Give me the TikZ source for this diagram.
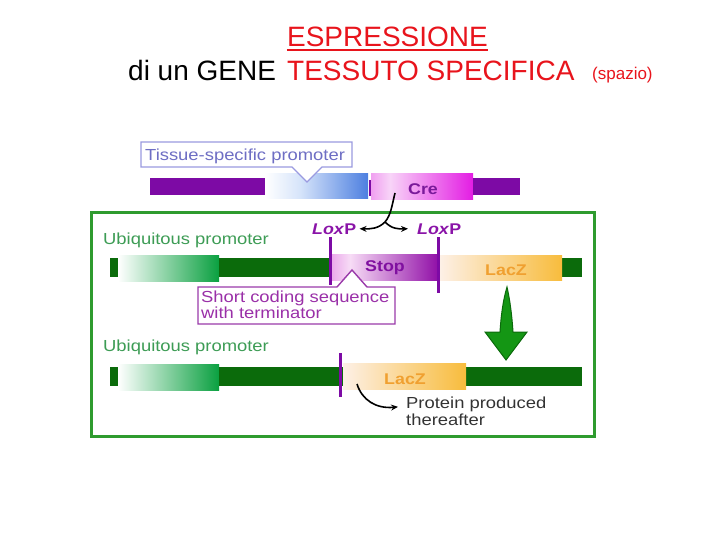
\documentclass[tikz,border=0pt]{standalone}
\usepackage{fontspec}
\setmainfont{Liberation Sans}
\newfontfamily\lab[FakeStretch=1.15]{Liberation Sans}
\usetikzlibrary{arrows.meta,calc}
\definecolor{titred}{HTML}{E8141C}
\definecolor{purp}{HTML}{7D0AA5}
\definecolor{creL}{HTML}{F0A0F0}
\definecolor{creM}{HTML}{F8D4F8}
\definecolor{creR}{HTML}{E31DE3}
\definecolor{blueR}{HTML}{4D7FE0}
\definecolor{blueM}{HTML}{D6E4FA}
\definecolor{stopL}{HTML}{EAA8EA}
\definecolor{stopM}{HTML}{F7DCF6}
\definecolor{stopR}{HTML}{9212A8}
\definecolor{lacL}{HTML}{FDF0E6}
\definecolor{lacR}{HTML}{F8BC3C}
\definecolor{dkgreen}{HTML}{0B6B0B}
\definecolor{grgrad}{HTML}{0AA040}
\definecolor{framegreen}{HTML}{2F9B2F}
\definecolor{ubcol}{HTML}{3D9C55}
\definecolor{tspcol}{HTML}{6E6EC4}
\definecolor{tspborder}{HTML}{9A9AE0}
\definecolor{scborder}{HTML}{9A3AAA}
\definecolor{sctext}{HTML}{9A30A8}
\definecolor{loxcol}{HTML}{8A14A8}
\definecolor{lactext}{HTML}{F0A030}
\definecolor{stoptext}{HTML}{8010A0}
\definecolor{cretext}{HTML}{7A1A9A}
\definecolor{protcol}{HTML}{333333}
\definecolor{arrgreen}{HTML}{149614}
\definecolor{arrborder}{HTML}{0B6A0B}
\tikzset{
  lab/.style={font=\lab\fontsize{16}{18}\selectfont, inner sep=0pt},
  blab/.style={font=\lab\bfseries\fontsize{15.5}{17}\selectfont, inner sep=0pt},
  titlefont/.style={inner sep=0pt, font=\fontsize{28}{30}\selectfont},
  loxline/.style={draw=purp, line width=3pt},
  bubble/.style={line width=1.4pt, fill=white},
  curvearrow/.style={line width=1.6pt, -{Stealth[length=7pt,width=6pt]}},
}
\begin{document}
\begin{tikzpicture}[x=1pt,y=-1pt]
\useasboundingbox (0,0) rectangle (720,540);
% title
\node[titlefont, text=titred, anchor=base] (title) at (387.5,47) {ESPRESSIONE};
\draw[titred, line width=1.6pt] ($(title.base west)+(0,3)$) -- ($(title.base east)+(0,3)$);
\node[titlefont, anchor=base west] (t2a) at (128,81) {di un GENE};
\node[titlefont, text=titred, anchor=base west] (t2b) at (287,81) {TESSUTO SPECIFICA};
\node[inner sep=0pt, font=\fontsize{17}{19}\selectfont, text=titred, anchor=base west] (t2c) at (592,80) {(spazio)};

% tissue-specific row
\fill[purp] (150,178) rectangle (265,195);
\shade[left color=white, right color=blueM] (265,174) rectangle (300,199);
\shade[left color=blueM, right color=blueR] (300,174) rectangle (368,199);
\draw[purp, line width=2.5pt] (370,180) -- (370,196);
\shade[left color=creL, right color=creM] (371,174) rectangle (390,200);
\shade[left color=creM, right color=creR] (390,174) rectangle (473,200);
\fill[purp] (473,178) rectangle (520,195);
\node[blab, text=cretext] (cre) at (423,189) {Cre};
% bubble
\draw[bubble, draw=tspborder] (141,167) -- (292,167) -- (307,182) coordinate (tsptip) -- (322,167) -- (352,167) -- (352,142) -- (141,142) -- cycle;
\node[lab, text=tspcol, anchor=base west] (tsp) at (145,161) {Tissue-specific promoter};

% green frame
\draw[framegreen, line width=3pt] (91,213) rectangle (594,436);

% Cre arrows and LoxP
\node[blab, text=loxcol, anchor=base west] (loxl) at (312,234) {\textit{Lox}P};
\node[blab, text=loxcol, anchor=base west] (loxr) at (417,234) {\textit{Lox}P};
\coordinate (crefoot) at (395,193);
\coordinate (split) at (385,222);
\coordinate (lefttip) at ($(loxl.east)+(3,0)$);
\coordinate (righttip) at ($(loxr.west)+(-9,0)$);
\draw[line width=1.6pt] (crefoot) .. controls (392,205) and (391,215) .. (split);
\draw[curvearrow] (split) .. controls (378,229) and (370,229) .. (lefttip);
\draw[curvearrow] (split) .. controls (392,229) and (398,229) .. (righttip);

% row 1
\node[lab, text=ubcol, anchor=base west] (ub1) at (103,244) {Ubiquitous promoter};
\fill[dkgreen] (110,258) rectangle (118,277);
\shade[left color=white, right color=grgrad] (118,255) rectangle (219,281);
\fill[dkgreen] (219,258) rectangle (331,277);
\fill[dkgreen] (437,258) rectangle (582,277);
\shade[left color=stopL, right color=stopM] (331,254) rectangle (350,280);
\shade[left color=stopM, right color=stopR] (350,254) rectangle (437,280);
\shade[left color=lacL, right color=lacR] (440,255) rectangle (562,280);
\draw[loxline] (330,237) -- (330,285);
\draw[loxline] (438,237) -- (438,293);
\node[blab, text=stoptext] (stop) at (385,268) {Stop};
\node[blab, text=lactext] (lac1) at (506,270) {LacZ};

% short coding bubble
\draw[bubble, draw=scborder] (198,287) -- (337,287) -- (352,270) coordinate (sctip) -- (367,287) -- (395,287) -- (395,324) -- (198,324) -- cycle;
\node[lab, text=sctext, anchor=base west] (sc1) at (201,302) {Short coding sequence};
\node[lab, text=sctext, anchor=base west] (sc2) at (201,318) {with terminator};

% big green arrow
\draw[fill=arrgreen, draw=arrborder, line width=1pt]
  (507,287) .. controls (503,300) and (501,316) .. (500,332) -- (485,332) -- (506,360)
  -- (527,332) -- (513,332) .. controls (512,316) and (510,300) .. (507,287) -- cycle;

% row 2
\node[lab, text=ubcol, anchor=base west] (ub2) at (103,351) {Ubiquitous promoter};
\fill[dkgreen] (110,367) rectangle (118,386);
\shade[left color=white, right color=grgrad] (118,364) rectangle (219,390);
\fill[dkgreen] (219,367) rectangle (582,386);
\shade[left color=lacL, right color=lacR] (343,363) rectangle (466,389);
\draw[loxline] (340,353) -- (340,397);
\node[blab, text=lactext] (lac2) at (405,379) {LacZ};

% protein arrow
\node[lab, text=protcol, anchor=base west] (prot1) at (406,408) {Protein produced};
\node[lab, text=protcol, anchor=base west] (prot2) at (406,425) {thereafter};
\coordinate (protstart) at (357,384);
\draw[curvearrow] (protstart) .. controls (362,400) and (376,409) .. ($(prot1.west)+(-8,3)$);
\end{tikzpicture}
\end{document}
